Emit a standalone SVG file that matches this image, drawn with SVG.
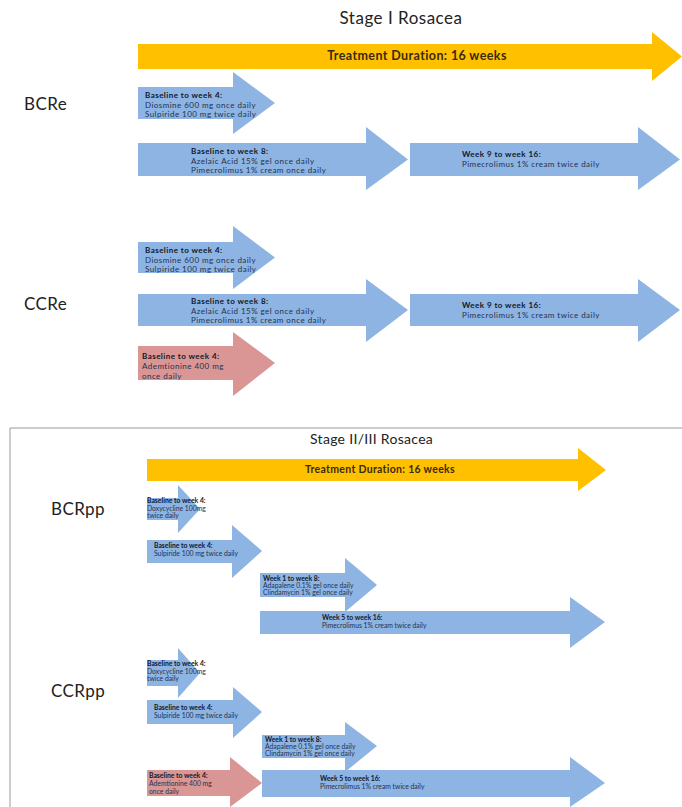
<svg xmlns="http://www.w3.org/2000/svg" width="682" height="807" viewBox="0 0 682 807">
<style>
.title{font-family:Lato,"Liberation Sans",sans-serif;fill:#222}
.lbl{font-family:Lato,"Liberation Sans",sans-serif;font-size:17px;fill:#222;letter-spacing:0.4px}
.yt{font-family:Lato,"Liberation Sans",sans-serif;font-weight:bold;fill:#3a2a10}
.blue{fill:#8eb4e3}
.pink{fill:#d99694}
.yel{fill:#ffc000}
.t{font-family:Lato,"Liberation Sans",sans-serif;font-size:8px;fill:#1f3350;letter-spacing:0.45px}
.t .b{font-weight:bold;fill:#101828}
.s{font-family:Lato,"Liberation Sans",sans-serif;font-size:6.8px;fill:#1f3350}
.s .b{font-weight:bold;fill:#101828}
</style>
<rect width="682" height="807" fill="#fff"/>
<g id="stage1">
<text class="title" x="401" y="24" font-size="17" letter-spacing="0.5" text-anchor="middle">Stage I Rosacea</text>
<g id="dur1"><polygon class="yel" points="138,44 652,44 652,32 682,56.5 652,81 652,69 138,69"/><text class="yt" x="417" y="60" font-size="12.5" letter-spacing="0.4" text-anchor="middle">Treatment Duration:  16 weeks</text></g>
<text class="lbl" x="24" y="110">BCRe</text>
<g id="bcre1"><polygon class="blue" points="138,87 233,87 233,72 275,103 233,134 233,119 138,119"/><text class="t" x="145" y="98"><tspan class="b">Baseline to week 4:</tspan><tspan x="145" dy="9.5">Diosmine 600 mg once daily</tspan><tspan x="145" dy="9.5">Sulpiride 100 mg twice daily</tspan></text></g>
<g id="bcre2"><polygon class="blue" points="138,143 366,143 366,127 408,159.5 366,190 366,176 138,176"/><text class="t" x="191" y="154"><tspan class="b">Baseline to week 8:</tspan><tspan x="191" dy="9.5">Azelaic Acid 15% gel once daily</tspan><tspan x="191" dy="9.5">Pimecrolimus 1% cream once daily</tspan></text></g>
<g id="bcre3"><polygon class="blue" points="410,143 638,143 638,127 680,159.5 638,190 638,176 410,176"/><text class="t" x="462" y="157"><tspan class="b">Week 9 to week 16:</tspan><tspan x="462" dy="10">Pimecrolimus 1% cream twice daily</tspan></text></g>
<text class="lbl" x="24" y="310">CCRe</text>
<g id="ccre1"><polygon class="blue" points="138,242 233,242 233,226 275,257.5 233,289 233,273 138,273"/><text class="t" x="145" y="253"><tspan class="b">Baseline to week 4:</tspan><tspan x="145" dy="9.5">Diosmine 600 mg once daily</tspan><tspan x="145" dy="9.5">Sulpiride 100 mg twice daily</tspan></text></g>
<g id="ccre2"><polygon class="blue" points="138,294 366,294 366,279 408,310 366,342 366,326 138,326"/><text class="t" x="191" y="304"><tspan class="b">Baseline to week 8:</tspan><tspan x="191" dy="9.5">Azelaic Acid 15% gel once daily</tspan><tspan x="191" dy="9.5">Pimecrolimus 1% cream once daily</tspan></text></g>
<g id="ccre3"><polygon class="blue" points="410,294 638,294 638,279 680,310 638,342 638,326 410,326"/><text class="t" x="462" y="308"><tspan class="b">Week 9 to week 16:</tspan><tspan x="462" dy="10">Pimecrolimus 1% cream twice daily</tspan></text></g>
<g id="ccre4"><polygon class="pink" points="138,346 233,346 233,332 275,363 233,396 233,380 138,380"/><text class="t" x="142" y="359"><tspan class="b">Baseline to week 4:</tspan><tspan x="142" dy="10">Ademtionine 400 mg</tspan><tspan x="142" dy="10">once daily</tspan></text></g>
</g>
<g id="stage23">
<path d="M10,807 V428 H682" fill="none" stroke="#9a9a9a" stroke-width="1"/>
<text class="title" x="310" y="444" font-size="14" letter-spacing="0.3">Stage II/III Rosacea</text>
<g id="dur2"><polygon class="yel" points="147,459 578,459 578,448 606,470 578,491 578,481 147,481"/><text class="yt" x="305" y="473" font-size="10.5" letter-spacing="0.3">Treatment Duration: 16 weeks</text></g>
<text class="lbl" x="51" y="515" font-size="14" letter-spacing="0.2">BCRpp</text>
<g id="bcrpp1"><polygon class="blue" points="147,498 178,498 178,485 200,509 178,533 178,520 147,520"/><text class="s" x="147" y="503"><tspan class="b">Baseline to week 4:</tspan><tspan x="147" dy="7.5">Doxycycline 100mg</tspan><tspan x="147" dy="7.5">twice daily</tspan></text></g>
<g id="bcrpp2"><polygon class="blue" points="147,540 232,540 232,525 262,551 232,578 232,563 147,563"/><text class="s" x="154" y="548"><tspan class="b">Baseline to week 4:</tspan><tspan x="154" dy="8">Sulpiride 100 mg twice daily</tspan></text></g>
<g id="bcrpp3"><polygon class="blue" points="260,573 345,573 345,558 377,585 345,612 345,597 260,597"/><text class="s" x="263" y="581"><tspan class="b">Week 1 to week 8:</tspan><tspan x="263" dy="7">Adapalene 0.1%  gel once daily</tspan><tspan x="263" dy="7">Clindamycin  1% gel once daily</tspan></text></g>
<g id="bcrpp4"><polygon class="blue" points="260,611 570,611 570,597 605,622 570,648 570,634 260,634"/><text class="s" x="322" y="620"><tspan class="b">Week 5 to week 16:</tspan><tspan x="322" dy="8">Pimecrolimus 1% cream twice daily</tspan></text></g>
<text class="lbl" x="51" y="697" font-size="14" letter-spacing="0.2">CCRpp</text>
<g id="ccrpp1"><polygon class="blue" points="147,660 178,660 178,648 200,673 178,698 178,686 147,686"/><text class="s" x="147" y="666"><tspan class="b">Baseline to week 4:</tspan><tspan x="147" dy="7.5">Doxycycline 100mg</tspan><tspan x="147" dy="7.5">twice daily</tspan></text></g>
<g id="ccrpp2"><polygon class="blue" points="147,700 233,700 233,687 262,712 233,738 233,724 147,724"/><text class="s" x="154" y="710"><tspan class="b">Baseline to week 4:</tspan><tspan x="154" dy="8">Sulpiride 100 mg twice daily</tspan></text></g>
<g id="ccrpp3"><polygon class="blue" points="262,735 345,735 345,722 377,746 345,772 345,758 262,758"/><text class="s" x="265" y="742"><tspan class="b">Week 1 to week 8:</tspan><tspan x="265" dy="7">Adapalene 0.1%  gel once daily</tspan><tspan x="265" dy="7">Clindamycin  1% gel once daily</tspan></text></g>
<g id="ccrpp4"><polygon class="pink" points="147,770 230,770 230,757 262,783 230,807 230,796 147,796"/><text class="s" x="149" y="778"><tspan class="b">Baseline to week 4:</tspan><tspan x="149" dy="8">Ademtionine 400 mg</tspan><tspan x="149" dy="8">once daily</tspan></text></g>
<g id="ccrpp5"><polygon class="blue" points="262,770 570,770 570,757 605,783 570,807 570,797 262,797"/><text class="s" x="320" y="781"><tspan class="b">Week 5 to week 16:</tspan><tspan x="320" dy="8">Pimecrolimus 1% cream twice daily</tspan></text></g>
</g>
</svg>
